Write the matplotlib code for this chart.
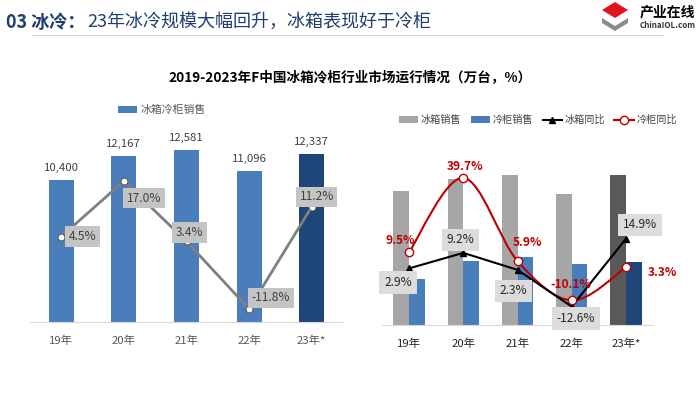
import numpy as np
import matplotlib.pyplot as plt
from matplotlib.path import Path
from matplotlib.patches import PathPatch, Polygon

plt.rcParams['font.family'] = ['Noto Sans CJK SC', 'DejaVu Sans']

years = ['19年', '20年', '21年', '22年', '23年*']

# left chart: total sales (10k units) and yoy (%)
total_sales = [10400, 12167, 12581, 11096, 12337]
total_yoy = [4.5, 17.0, 3.4, -11.8, 11.2]

# right chart
fridge_sales = [7745, 8458, 8651, 7561, 8687]
freezer_sales = [2655, 3709, 3930, 3535, 3650]
fridge_yoy = [2.9, 9.2, 2.3, -12.6, 14.9]
freezer_yoy = [9.5, 39.7, 5.9, -10.1, 3.3]

W, H = 700, 395
fig = plt.figure(figsize=(7, 3.95), dpi=100)
fig.patch.set_facecolor('white')


def px(x, y):
    # pixel (from top-left) -> figure fraction
    return x / W, 1 - y / H


def smooth_path(xs, ys):
    pts = np.column_stack([xs, ys]).astype(float)
    p = np.vstack([pts[0], pts, pts[-1]])
    verts = [pts[0]]
    codes = [Path.MOVETO]
    for i in range(1, len(p) - 2):
        c1 = p[i] + (p[i + 1] - p[i - 1]) / 6
        c2 = p[i + 1] - (p[i + 2] - p[i]) / 6
        verts += [c1, c2, p[i + 1]]
        codes += [Path.CURVE4] * 3
    return Path(verts, codes)


# header
fig.text(*px(6, 22), '03 冰冷：', fontsize=13, fontweight='bold', color='#1f3f6e', va='center')
fig.text(*px(87, 22), '23年冰冷规模大幅回升，冰箱表现好于冷柜', fontsize=13, color='#1f3f6e', va='center')
fig.add_artist(plt.Line2D([32 / W, 663 / W], [1 - 35 / H, 1 - 35 / H], color='#d0d0d0', lw=0.8))

# logo
fig.add_artist(Polygon([px(615, 2), px(628, 10), px(615, 18), px(602, 10)], closed=True,
                       facecolor='#e0141e', edgecolor='none'))
fig.add_artist(Polygon([px(602, 18), px(615, 26), px(628, 18), px(628, 23), px(615, 31), px(602, 23)],
                       closed=True, facecolor='#8c8c8c', edgecolor='none'))
fig.text(*px(640, 13), '产业在线', fontsize=10, fontweight='bold', color='black', va='center')
fig.text(*px(640, 25), 'ChinaIOL.com', fontsize=5.8, fontweight='bold', color='#333333', va='center')

fig.text(*px(350, 77), '2019-2023年F中国冰箱冷柜行业市场运行情况（万台，%）',
         fontsize=9.8, fontweight='bold', color='black', ha='center', va='center')

# ---------- left chart ----------
ax = fig.add_axes([30 / W, 73.3 / H, 313 / W, 192 / H])
x = np.arange(len(years))
colors = ['#4a7ebb'] * 4 + ['#1f4679']
bars = ax.bar(x, total_sales, width=0.4, color=colors, label='冰箱冷柜销售')
for xi, v in zip(x, total_sales):
    ax.annotate(f'{v:,}', (xi, v), xytext=(0, 7), textcoords='offset pixels',
                ha='center', va='bottom', fontsize=8.2, color='#404040')
ax.set_xlim(-0.5, 4.5)
ax.set_ylim(0, 14097)
ax.set_yticks([])
ax.set_xticks(x)
ax.set_xticklabels(years, fontsize=8.2, color='#595959')
ax.tick_params(axis='x', length=0, pad=10)
for s in ['top', 'right', 'left']:
    ax.spines[s].set_visible(False)
ax.spines['bottom'].set_color('#d9d9d9')

ax2 = ax.twinx()
ax2.plot(x, total_yoy, color='#7f7f7f', lw=2, marker='o', markersize=5,
         markerfacecolor='white', markeredgecolor='#595959', markeredgewidth=0.8)
ax2.set_ylim(-14.68, 28.56)
ax2.axis('off')
left_offsets = [(21, 0), (20, -17), (3, 9), (22, 11), (5, 10)]
for xi, v, off in zip(x, total_yoy, left_offsets):
    ax2.annotate(f'{v:.1f}%', (xi, v), xytext=off, textcoords='offset pixels',
                 ha='center', va='center', fontsize=8.6, color='#404040',
                 bbox=dict(boxstyle='square,pad=0.3', fc='#c4c4c4', ec='none'))

fig.legend(handles=[bars], labels=['冰箱冷柜销售'], loc='center left',
           bbox_to_anchor=px(108, 110), frameon=False, fontsize=7.8,
           labelcolor='#595959', handlelength=1.8, handleheight=0.6, handletextpad=0.3)

# ---------- right chart ----------
bx = fig.add_axes([382 / W, 70 / H, 271 / W, 160 / H])
w = 0.29
gray_c = ['#a6a6a6'] * 4 + ['#595959']
blue_c = ['#4a7ebb'] * 4 + ['#1f4679']
b1 = bx.bar(x - w / 2, fridge_sales, width=w, color=gray_c, label='冰箱销售')
b2 = bx.bar(x + w / 2, freezer_sales, width=w, color=blue_c, label='冷柜销售')
bx.set_xlim(-0.5, 4.5)
bx.set_ylim(0, 9250)
bx.set_yticks([])
bx.set_xticks(x)
bx.set_xticklabels(years, fontsize=8.2, color='#262626')
bx.tick_params(axis='x', length=0, pad=10)
for s in ['top', 'right', 'left']:
    bx.spines[s].set_visible(False)
bx.spines['bottom'].set_color('#d9d9d9')

bx2 = bx.twinx()
bx2.set_ylim(-20.1, 44.9)
bx2.axis('off')
l1, = bx2.plot(x, fridge_yoy, color='black', lw=1.5, marker='^', markersize=5, label='冰箱同比')
bx2.add_patch(PathPatch(smooth_path(x, freezer_yoy), facecolor='none', edgecolor='#c00000', lw=1.5))
l2, = bx2.plot(x, freezer_yoy, color='#c00000', lw=1.5, ls='none', marker='o', markersize=6,
               markerfacecolor='white', markeredgecolor='#c00000', label='冷柜同比')

fr_offsets = [(-11, -14), (-3, 13), (-4, -21), (4, -12), (14, 14)]
for xi, v, off in zip(x, fridge_yoy, fr_offsets):
    bx2.annotate(f'{v:.1f}%', (xi, v), xytext=off, textcoords='offset pixels',
                 ha='center', va='center', fontsize=8.6, color='#262626',
                 bbox=dict(boxstyle='square,pad=0.4', fc='#dcdcdc', ec='none'))
fz_offsets = [(-9, 12), (2, 11), (10, 19), (-1, 16), (37, -5)]
for xi, v, off in zip(x, freezer_yoy, fz_offsets):
    bx2.annotate(f'{v:.1f}%', (xi, v), xytext=off, textcoords='offset pixels',
                 ha='center', va='center', fontsize=8.6, color='#c00000', fontweight='bold')

l2_leg = plt.Line2D([], [], color='#c00000', lw=1.5, marker='o', markersize=6,
                    markerfacecolor='white', markeredgecolor='#c00000')
fig.legend(handles=[b1, b2, l1, l2_leg], labels=['冰箱销售', '冷柜销售', '冰箱同比', '冷柜同比'],
           loc='center', bbox_to_anchor=px(538, 120), ncol=4, frameon=False, fontsize=7.3,
           labelcolor='#404040', handlelength=1.9, handleheight=0.6, columnspacing=0.9,
           handletextpad=0.3)

fig.savefig('out.png', dpi=100, facecolor='white')
